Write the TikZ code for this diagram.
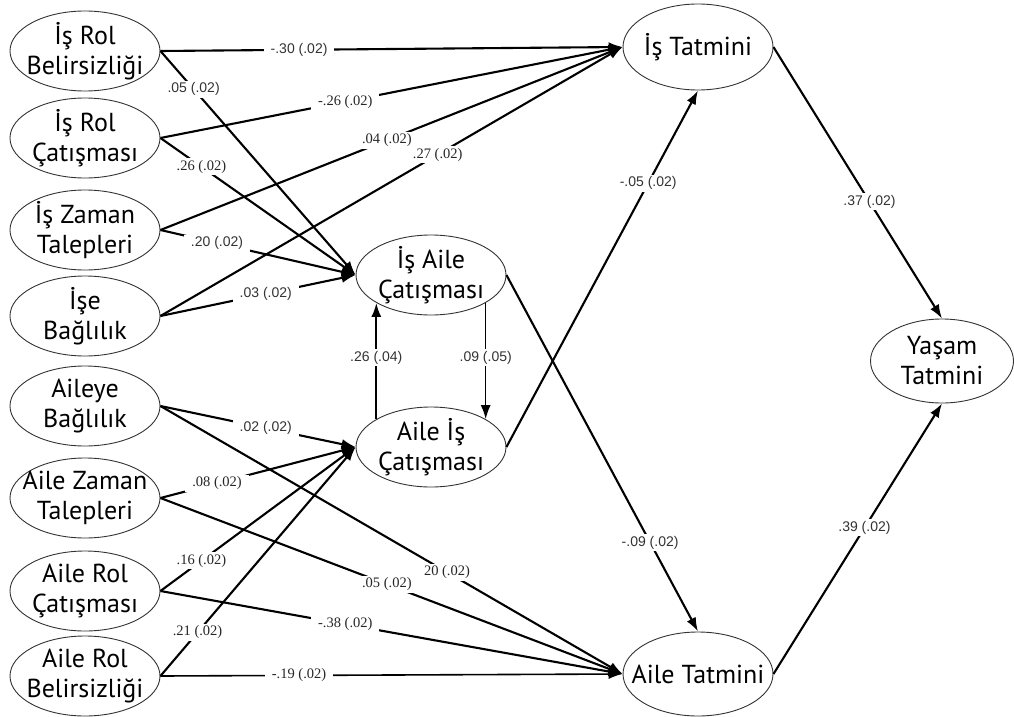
\documentclass[tikz,border=0pt]{standalone}
\usepackage{fontspec}
\setmainfont{PT Sans}
\newfontfamily\lblserif{Liberation Serif}
\newfontfamily\lblsans{Liberation Sans}
\usetikzlibrary{arrows.meta,shapes.geometric}
\begin{document}
\begin{tikzpicture}[x=1pt,y=-1pt,
  var/.style={ellipse,draw=black!80,line width=0.9pt,minimum width=150pt,minimum height=80pt,
    inner xsep=-20pt,inner ysep=-12pt,align=center,font=\fontsize{26}{30}\selectfont},
  conn/.style={line width=2.1pt,-{Latex[length=14pt,width=10pt]}},
  lbs/.style={fill=white,inner xsep=7pt,inner ysep=2pt,text=black!85,font=\lblserif\fontsize{14.5}{16}\selectfont},
  lbf/.style={fill=white,inner xsep=7pt,inner ysep=2pt,text=black!80,font=\lblsans\fontsize{14}{16}\selectfont}]
\useasboundingbox[fill=white] (0,0) rectangle (1014,717);
% latent variables
\node[var] (rb1) at (85,51) {İş Rol\\Belirsizliği};
\node[var] (rc1) at (85,138) {İş Rol\\Çatışması};
\node[var] (zt1) at (85,230) {İş Zaman\\Talepleri};
\node[var] (ib) at (85,316) {İşe\\Bağlılık};
\node[var] (ab) at (85,406) {Aileye\\Bağlılık};
\node[var] (zt2) at (85,498) {Aile Zaman\\Talepleri};
\node[var] (rc2) at (85,591) {Aile Rol\\Çatışması};
\node[var] (rb2) at (85,676) {Aile Rol\\Belirsizliği};
\node[var] (iac) at (431,275) {İş Aile\\Çatışması};
\node[var] (aic) at (431,447) {Aile İş\\Çatışması};
\node[var,minimum height=86pt] (ist) at (698,47) {İş Tatmini};
\node[var,minimum height=84pt] (ait) at (698,674) {Aile Tatmini};
\node[var,minimum width=143pt,minimum height=84pt] (yt) at (942,361) {Yaşam\\Tatmini};
% paths to İş Tatmini
\draw[conn] (rb1.east) -- node[lbf,pos=.30]{-.30 (.02)} (ist.west);
\draw[conn] (rc1.east) -- node[lbs,pos=.40]{-.26 (.02)} (ist.west);
\draw[conn] (zt1.east) -- node[lbs,pos=.49]{.04 (.02)} (ist.west);
\draw[conn] (ib.east) -- node[lbs,pos=.60]{.27 (.02)} (ist.west);
% paths to İş Aile Çatışması
\draw[conn] (rb1.east) -- node[lbf,pos=.17]{.05 (.02)} (iac.west);
\draw[conn] (rc1.east) -- node[lbs,pos=.21]{.26 (.02)} (iac.west);
\draw[conn] (zt1.east) -- node[lbf,pos=.29]{.20 (.02)} (iac.west);
\draw[conn] (ib.east) -- node[lbf,pos=.54]{.03 (.02)} (iac.west);
% paths to Aile İş Çatışması
\draw[conn] (ab.east) -- node[lbf,pos=.54]{.02 (.02)} (aic.west);
\draw[conn] (zt2.east) -- node[lbs,pos=.29]{.08 (.02)} (aic.west);
\draw[conn] (rc2.east) -- node[lbs,pos=.21]{.16 (.02)} (aic.west);
\draw[conn] (rb2.east) -- node[lbs,pos=.19]{.21 (.02)} (aic.west);
% paths to Aile Tatmini
\draw[conn] (ab.east) -- node[lbs,pos=.62]{20 (.02)} (ait.west);
\draw[conn] (zt2.east) -- node[lbs,pos=.49]{.05 (.02)} (ait.west);
\draw[conn] (rc2.east) -- node[lbs,pos=.40]{-.38 (.02)} (ait.west);
\draw[conn,line width=1.6pt] (rb2.east) -- node[lbs,pos=.30]{-.19 (.02)} (ait.west);
% between conflicts
\draw[conn] (aic.153) -- node[lbf,pos=.53]{.26 (.04)} (iac.207);
\draw[conn,line width=1.5pt] (iac.333) -- node[lbf,pos=.47]{.09 (.05)} (aic.27);
% cross paths
\draw[conn] (iac.east) -- node[lbf,pos=.75]{-.09 (.02)} (ait.north);
\draw[conn] (aic.east) -- node[lbf,pos=.74]{-.05 (.02)} (ist.south);
% to Yaşam Tatmini
\draw[conn] (ist.east) -- node[lbf,pos=.57]{.37 (.02)} (yt.north);
\draw[conn] (ait.east) -- node[lbf,pos=.54]{.39 (.02)} (yt.south);
\end{tikzpicture}
\end{document}
